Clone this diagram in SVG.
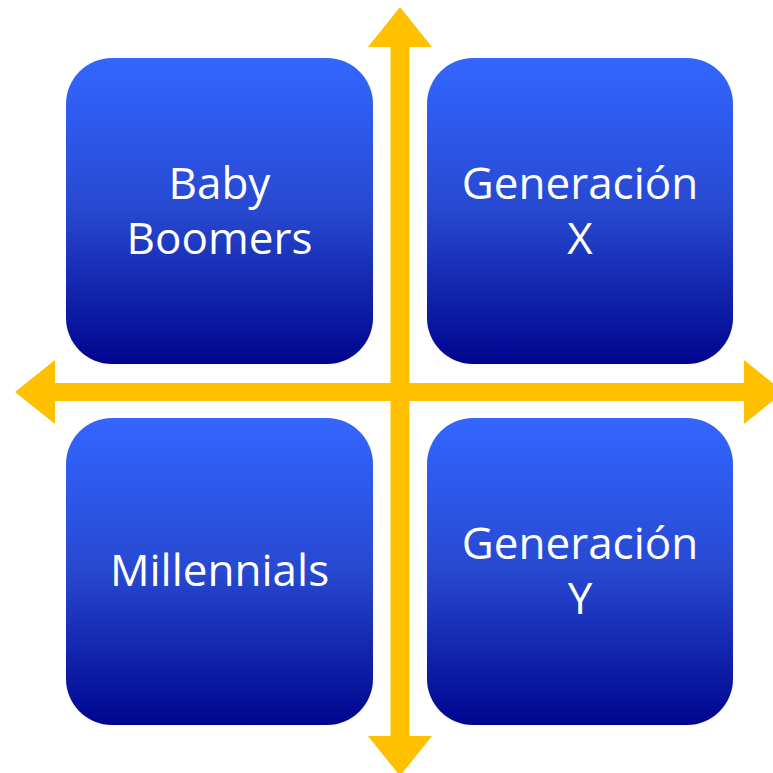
<svg xmlns="http://www.w3.org/2000/svg" width="773" height="773" viewBox="0 0 773 773">
<defs>
<linearGradient id="g" x1="0" y1="0" x2="0" y2="1">
<stop offset="0" stop-color="#3366FF"/>
<stop offset="0.5" stop-color="#2748D0"/>
<stop offset="1" stop-color="#00058F"/>
</linearGradient>
</defs>
<style>
.box{fill:url(#g);}
.t{fill:#FFFFFF;font-family:"Open Sans","Noto Sans",sans-serif;font-size:44px;text-anchor:middle;}
.arr{fill:#FFC000;}
</style>
<rect width="773" height="773" fill="#FFFFFF"/>
<g id="connectors">
<polygon class="arr" points="400,7 432,47 409.5,47 409.5,736 432,736 400,776 368,736 390.5,736 390.5,47 368,47"/>
<polygon class="arr" points="15,392 55,360 55,383 744,383 744,360 784,392 744,424 744,401 55,401 55,424"/>
</g>
<g id="baby-boomers">
<rect class="box" x="66" y="58" width="307" height="306" rx="46"/>
<text class="t" x="219.5" y="199">Baby</text>
<text class="t" x="219.5" y="254">Boomers</text>
</g>
<g id="generacion-x">
<rect class="box" x="427" y="58" width="306" height="306" rx="46"/>
<text class="t" x="580" y="199">Generación</text>
<text class="t" x="580" y="254">X</text>
</g>
<g id="millennials">
<rect class="box" x="66" y="418" width="307" height="307" rx="46"/>
<text class="t" x="219.5" y="586">Millennials</text>
</g>
<g id="generacion-y">
<rect class="box" x="427" y="418" width="306" height="307" rx="46"/>
<text class="t" x="580" y="559">Generación</text>
<text class="t" x="580" y="614">Y</text>
</g>
</svg>
